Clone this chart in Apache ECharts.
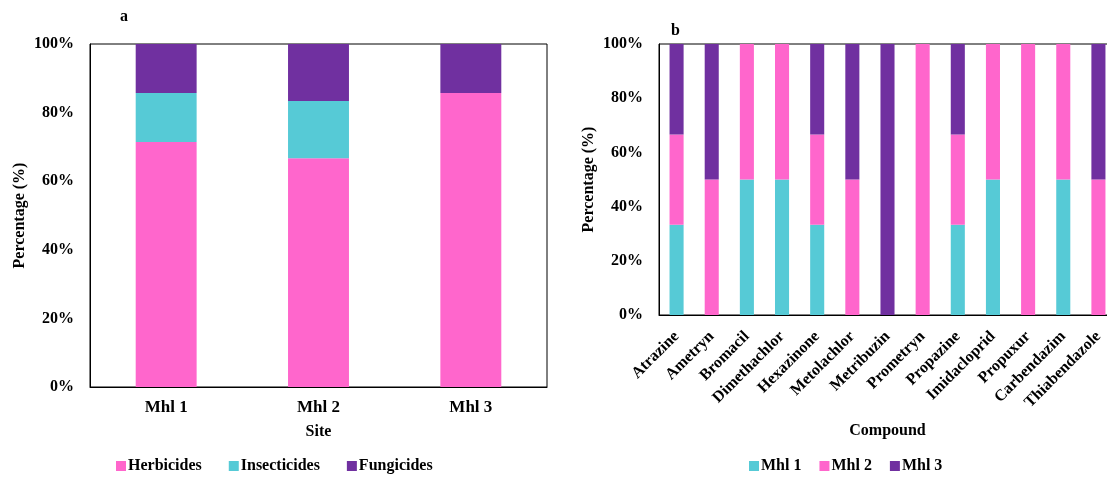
<!DOCTYPE html>
<html>
<head>
<meta charset="utf-8">
<script src="https://cdn.jsdelivr.net/npm/echarts@6/dist/echarts.min.js"></script>
<style>
  html, body { margin: 0; padding: 0; background: #fff; overflow: hidden; }
  /* panel b runs past the right edge of the page, so the canvas is a little wider than the view */
  #chart { width: 1120px; height: 482px; }
</style>
</head>
<body>
<div id="chart"></div>
<script>
// Panel a: pesticide class share at each site
const sites = ['Mhl 1', 'Mhl 2', 'Mhl 3'];
const herbicides = [71.4, 66.7, 85.7];
const insecticides = [14.3, 16.7, 0];
const fungicides = [14.3, 16.6, 14.3];

// Panel b: share of detections of each compound by site
const compounds = ['Atrazine', 'Ametryn', 'Bromacil', 'Dimethachlor', 'Hexazinone', 'Metolachlor',
  'Metribuzin', 'Prometryn', 'Propazine', 'Imidacloprid', 'Propuxur', 'Carbendazim', 'Thiabendazole'];
const mhl1 = [33.3, 0, 50, 50, 33.3, 0, 0, 0, 33.3, 50, 0, 50, 0];
const mhl2 = [33.3, 50, 50, 50, 33.3, 50, 0, 100, 33.3, 50, 100, 50, 50];
const mhl3 = [33.4, 50, 0, 0, 33.4, 50, 100, 0, 33.4, 0, 0, 0, 50];

const yTicks = [0, 20, 40, 60, 80, 100];

const PINK = '#FF66CC', CYAN = '#56CAD6', PURPLE = '#7030A0';
const FONT = '"Liberation Serif", "Times New Roman", serif';
const txt = { fontFamily: FONT, fontWeight: 'bold', color: '#000' };

function valueAxis(gridIndex) {
  return {
    type: 'value', gridIndex, min: yTicks[0], max: yTicks[yTicks.length - 1], interval: yTicks[1] - yTicks[0],
    name: 'Percentage (%)', nameLocation: 'middle', nameGap: 62,
    nameTextStyle: Object.assign({ fontSize: 16 }, txt),
    axisLine: { show: true, lineStyle: { color: '#000', width: 1 } },
    axisTick: { show: false }, splitLine: { show: false },
    axisLabel: Object.assign({ fontSize: 16, margin: 16, formatter: '{value}%' }, txt)
  };
}

function legend(names, left, itemGap) {
  return {
    data: names, left, top: 458, padding: 0,
    icon: 'rect', itemWidth: 10, itemHeight: 10, itemGap,
    textStyle: Object.assign({ fontSize: 16, padding: [0, 0, 0, -3] }, txt)
  };
}

const chart = echarts.init(document.getElementById('chart'), null, { renderer: 'canvas' });
chart.setOption({
  animation: false,
  backgroundColor: '#fff',
  title: [
    { text: 'a', left: 115, top: 4, textStyle: Object.assign({ fontSize: 16 }, txt) },
    { text: 'b', left: 666, top: 18, textStyle: Object.assign({ fontSize: 16 }, txt) }
  ],
  grid: [
    { left: 90, top: 44, width: 457, height: 343, show: true, borderColor: '#000', borderWidth: 1, backgroundColor: 'transparent' },
    { left: 659, top: 44, width: 457, height: 271, show: true, borderColor: '#000', borderWidth: 1, backgroundColor: 'transparent' }
  ],
  legend: [
    legend(['Herbicides', 'Insecticides', 'Fungicides'], 116, 27),
    legend(['Mhl 1', 'Mhl 2', 'Mhl 3'], 749, 18)
  ],
  xAxis: [
    {
      type: 'category', gridIndex: 0, data: sites,
      name: 'Site', nameLocation: 'middle', nameGap: 37,
      nameTextStyle: Object.assign({ fontSize: 16 }, txt),
      axisLine: { lineStyle: { color: '#000' } }, axisTick: { show: false },
      axisLabel: Object.assign({ fontSize: 17, margin: 12 }, txt)
    },
    {
      type: 'category', gridIndex: 1, data: compounds,
      name: 'Compound', nameLocation: 'middle', nameGap: 108,
      nameTextStyle: Object.assign({ fontSize: 16 }, txt),
      axisLine: { lineStyle: { color: '#000' } }, axisTick: { show: false },
      axisLabel: Object.assign({ fontSize: 16, margin: 19, rotate: 45, interval: 0 }, txt)
    }
  ],
  yAxis: [valueAxis(0), valueAxis(1)],
  series: [
    { name: 'Herbicides', type: 'bar', stack: 'a', xAxisIndex: 0, yAxisIndex: 0, data: herbicides, barWidth: '40%', itemStyle: { color: PINK } },
    { name: 'Insecticides', type: 'bar', stack: 'a', xAxisIndex: 0, yAxisIndex: 0, data: insecticides, barWidth: '40%', itemStyle: { color: CYAN } },
    { name: 'Fungicides', type: 'bar', stack: 'a', xAxisIndex: 0, yAxisIndex: 0, data: fungicides, barWidth: '40%', itemStyle: { color: PURPLE } },
    { name: 'Mhl 1', type: 'bar', stack: 'b', xAxisIndex: 1, yAxisIndex: 1, data: mhl1, barWidth: '40%', itemStyle: { color: CYAN } },
    { name: 'Mhl 2', type: 'bar', stack: 'b', xAxisIndex: 1, yAxisIndex: 1, data: mhl2, barWidth: '40%', itemStyle: { color: PINK } },
    { name: 'Mhl 3', type: 'bar', stack: 'b', xAxisIndex: 1, yAxisIndex: 1, data: mhl3, barWidth: '40%', itemStyle: { color: PURPLE } }
  ]
});
</script>
</body>
</html>
